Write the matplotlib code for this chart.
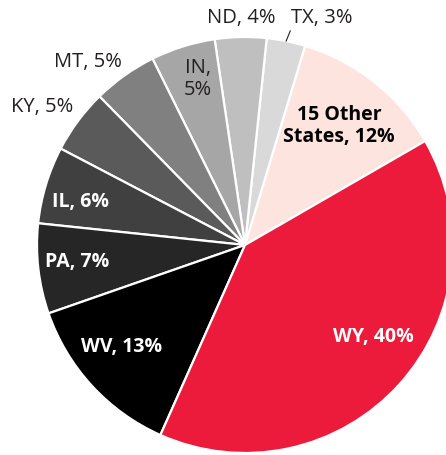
import numpy as np
import matplotlib
matplotlib.use("Agg")
import matplotlib.pyplot as plt

plt.rcParams['font.family'] = ['Open Sans', 'DejaVu Sans']

# data, counterclockwise from the WY / other-states boundary
states = ["15 Other\nStates", "TX", "ND", "IN", "MT", "KY", "IL", "PA", "WV", "WY"]
shares = [12, 3, 4, 5, 5, 5, 6, 7, 13, 40]
colors = ["#fde4de", "#d9d9d9", "#bfbfbf", "#a6a6a6", "#808080",
          "#5a5a5a", "#404040", "#262626", "#000000", "#ec1a3b"]

# label placement: (angle deg, distance in radii, colour, bold)
label_style = {
    "15 Other\nStates": (51.7, 0.73, "black", True),
    "ND": (91.0, 1.09, "#231f20", False),
    "IN": (105.7, 0.83, "#231f20", False),
    "MT": (130.5, 1.16, "#231f20", False),
    "KY": (145.8, 1.18, "#231f20", False),
    "IL": (165.3, 0.82, "white", True),
    "PA": (185.8, 0.81, "white", True),
    "WV": (219.4, 0.77, "white", True),
    "WY": (324.3, 0.76, "white", True),
}

fig = plt.figure(figsize=(4.46, 4.55), dpi=100)
ax = fig.add_axes([0, 0, 1, 1])
ax.axis('off')

wedges, _ = ax.pie(shares, colors=colors, startangle=30, counterclock=True,
                   radius=1.0, center=(0, 0), frame=False,
                   wedgeprops=dict(edgecolor='white', linewidth=1.6))
ax.set_xlim(-245 / 208, 201 / 208)
ax.set_ylim(-210 / 208, 245 / 208)

for st, sh in zip(states, shares):
    if st == "TX":
        continue
    ang, dist, col, bold = label_style[st]
    txt = f"{st}, {sh}%" if st != "IN" else f"{st},\n{sh}%"
    a = np.deg2rad(ang)
    ax.text(dist * np.cos(a), dist * np.sin(a), txt, ha='center', va='center',
            color=col, fontsize=14 if bold else 14.5,
            fontweight='bold' if bold else 'normal', linespacing=1.1)

# TX gets a small leader line
w = wedges[states.index("TX")]
mid = np.deg2rad((w.theta1 + w.theta2) / 2)
ax.plot([1.0 * np.cos(mid), 1.05 * np.cos(mid) + 0.01],
        [1.0 * np.sin(mid), 1.05 * np.sin(mid)], color='#231f20', lw=0.8)
ax.text(0.37, 1.09, f"TX, {shares[states.index('TX')]}%", ha='center', va='center',
        color='#231f20', fontsize=14.5)

fig.savefig("out.png", dpi=100)
